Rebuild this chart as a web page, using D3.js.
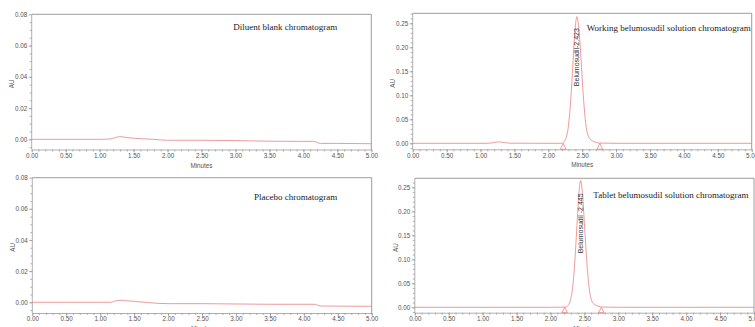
<!DOCTYPE html>
<html>
<head>
<meta charset="utf-8">
<script src="https://cdn.jsdelivr.net/npm/d3@7"></script>
<style>
  html, body { margin: 0; padding: 0; background: #fff; }
  svg { display: block; }
</style>
</head>
<body>
<svg id="chart" width="755" height="327"></svg>
<script>
// Retention time axis ticks (minutes)
const minuteTicks = [0, 0.5, 1, 1.5, 2, 2.5, 3, 3.5, 4, 4.5, 5];
const minuteMinor = d3.range(0, 5.0001, 0.1);

// Diluent blank trace
const blankTime = [0, 0.5, 1.0, 1.15, 1.22, 1.30, 1.38, 1.45, 1.60, 1.80, 1.90, 2.00, 2.50, 3.00, 3.50, 4.00, 4.15, 4.25, 4.50, 5.00];
const blankAU   = [0, 0, 0, 0.0002, 0.0010, 0.0017, 0.0013, 0.0009, 0.0004, 0.0000, -0.0004, -0.0006, -0.0006, -0.0008, -0.0012, -0.0013, -0.0013, -0.0026, -0.0026, -0.0028];

// Placebo trace
const placeboTime = [0, 0.5, 1.0, 1.15, 1.25, 1.32, 1.40, 1.50, 1.70, 2.00, 2.50, 3.00, 3.50, 4.00, 4.15, 4.25, 4.50, 5.00];
const placeboAU   = [0, 0, 0, 0, 0.0011, 0.0013, 0.0009, 0.0006, -0.0002, -0.0009, -0.0009, -0.0011, -0.0013, -0.0013, -0.0013, -0.0024, -0.0025, -0.0026];

// Working standard solution trace
const workingTime = [0, 1.10, 1.20, 1.27, 1.35, 1.45, 2.00, 2.20, 2.22, 2.24, 2.26, 2.28, 2.30, 2.32, 2.34, 2.36, 2.38, 2.40, 2.423, 2.44, 2.46, 2.48, 2.50, 2.52, 2.54, 2.56, 2.58, 2.60, 2.63, 2.68, 2.75, 3.00, 5.00];
const workingAU   = [0, 0, 0.0015, 0.0030, 0.0015, 0.0002, 0, 0, 0.0015, 0.0045, 0.0105, 0.0210, 0.0400, 0.0700, 0.1100, 0.1580, 0.2070, 0.2450, 0.2640, 0.2520, 0.2230, 0.1810, 0.1350, 0.0920, 0.0570, 0.0330, 0.0190, 0.0120, 0.0070, 0.0030, 0.0005, 0, 0];
const workingLabel = "Belumosudil-2.423";
const workingMarks = [2.22, 2.76];

// Tablet sample solution trace
const tabletTime = [0, 2.00, 2.22, 2.24, 2.26, 2.28, 2.30, 2.32, 2.34, 2.36, 2.38, 2.40, 2.42, 2.445, 2.46, 2.48, 2.50, 2.52, 2.54, 2.56, 2.58, 2.60, 2.62, 2.65, 2.70, 2.77, 3.00, 5.00];
const tabletAU   = [0, 0, 0.0005, 0.0015, 0.0040, 0.0090, 0.0180, 0.0340, 0.0600, 0.0980, 0.1450, 0.1950, 0.2380, 0.2640, 0.2540, 0.2200, 0.1750, 0.1280, 0.0860, 0.0530, 0.0300, 0.0170, 0.0100, 0.0060, 0.0025, 0.0005, 0, 0];
const tabletLabel = "Belumosudil -2.445";
const tabletMarks = [2.21, 2.75];

// Absorbance axis ticks
const smallTicks = [0, 0.02, 0.04, 0.06, 0.08];
const largeTicks = [0, 0.05, 0.10, 0.15, 0.20, 0.25];

const titles = [
  "Diluent blank chromatogram",
  "Working belumosudil solution chromatogram",
  "Placebo chromatogram",
  "Tablet belumosudil solution chromatogram"
];

const panels = [
  { box: [31.7, 371.3, 14.3, 149.5], yDom: [-0.0065, 0.08], yTicks: smallTicks, yMinorStep: 0.005,
    t: blankTime, v: blankAU, title: titles[0], titlePos: [201.5, 15.2], auX: 11.7 },
  { box: [412.7, 751.7, 13.3, 149.3], yDom: [-0.0125, 0.2708], yTicks: largeTicks, yMinorStep: 0.01,
    t: workingTime, v: workingAU, title: titles[1], titlePos: [174, 17.7], auX: 392.3,
    peak: { time: 2.423, label: workingLabel, start: 0.119 }, marks: workingMarks },
  { box: [32.3, 371.7, 177.7, 313], yDom: [-0.0069, 0.08], yTicks: smallTicks, yMinorStep: 0.005,
    t: placeboTime, v: placeboAU, title: titles[2], titlePos: [221.7, 22.5], auX: 12 },
  { box: [414.8, 754, 178.3, 312.7], yDom: [-0.01125, 0.26875], yTicks: largeTicks, yMinorStep: 0.01,
    t: tabletTime, v: tabletAU, title: titles[3], titlePos: [178.5, 19.9], auX: 395,
    peak: { time: 2.445, label: tabletLabel, start: 0.1125 }, marks: tabletMarks }
];

const svg = d3.select("#chart");
const frameColor = "#9c9c9c";
const traceColor = "#ea8080";
const tickFont = "'Liberation Sans', Arial, sans-serif";

panels.forEach(p => {
  const [x0, x1, y0, y1] = p.box;
  const x = d3.scaleLinear().domain([0, 5]).range([x0, x1]);
  const y = d3.scaleLinear().domain(p.yDom).range([y1, y0]);
  const g = svg.append("g");

  // Frame: top and right edges
  g.append("path")
    .attr("d", `M${x0},${y0}H${x1}V${y1}`)
    .attr("fill", "none").attr("stroke", frameColor).attr("stroke-width", 1);

  // Y axis (minor then major)
  const yMinor = d3.range(0, p.yDom[1], p.yMinorStep);
  const yMinorNeg = d3.range(-p.yMinorStep, p.yDom[0], -p.yMinorStep);
  g.append("g").attr("transform", `translate(${x0},0)`)
    .call(d3.axisLeft(y).tickValues(yMinor.concat(yMinorNeg)).tickSize(2).tickFormat(""))
    .call(a => a.select(".domain").remove());
  const ya = g.append("g").attr("transform", `translate(${x0},0)`)
    .call(d3.axisLeft(y).tickValues(p.yTicks).tickSize(3).tickSizeOuter(0).tickPadding(1.5).tickFormat(d3.format(".2f")));
  ya.select(".domain").attr("d", `M0,${y0}V${y1}`);

  // X axis (minor then major)
  g.append("g").attr("transform", `translate(0,${y1})`)
    .call(d3.axisBottom(x).tickValues(minuteMinor).tickSize(2).tickFormat(""))
    .call(a => a.select(".domain").remove());
  g.append("g").attr("transform", `translate(0,${y1})`)
    .call(d3.axisBottom(x).tickValues(minuteTicks).tickSize(3).tickSizeOuter(0).tickPadding(1).tickFormat(d3.format(".2f")));

  g.selectAll(".domain, .tick line").attr("stroke", frameColor).attr("stroke-width", 0.8);
  g.selectAll(".tick text").attr("font-family", tickFont).attr("font-size", 6.3).attr("fill", "#555");

  // Axis titles
  g.append("text")
    .attr("transform", `translate(${p.auX},${(y0 + y1) / 2 + 2}) rotate(-90)`)
    .attr("text-anchor", "middle").attr("dominant-baseline", "central")
    .attr("font-family", tickFont).attr("font-size", 6.3).attr("fill", "#555")
    .text("AU");
  g.append("text")
    .attr("x", (x0 + x1) / 2).attr("y", y1 + 15.5)
    .attr("text-anchor", "middle").attr("dominant-baseline", "central")
    .attr("font-family", tickFont).attr("font-size", 6.3).attr("fill", "#555")
    .text("Minutes");

  // Chromatogram trace
  const line = d3.line().x((d, i) => x(p.t[i])).y(d => y(d)).curve(d3.curveMonotoneX);
  g.append("path").datum(p.v)
    .attr("d", line)
    .attr("fill", "none").attr("stroke", traceColor).attr("stroke-width", 0.8);

  // Integration start / end markers
  if (p.marks) {
    p.marks.forEach(m => {
      const cx = x(m), top = y(0);
      g.append("path")
        .attr("d", `M${cx},${top}L${cx - 2.8},${y1}L${cx + 2.8},${y1}Z`)
        .attr("fill", "none").attr("stroke", traceColor).attr("stroke-width", 0.8);
    });
  }

  // Peak name and retention time
  if (p.peak) {
    g.append("text")
      .attr("transform", `translate(${x(p.peak.time)},${y(p.peak.start)}) rotate(-90)`)
      .attr("text-anchor", "start").attr("dominant-baseline", "central")
      .attr("font-family", tickFont).attr("font-size", 7).attr("fill", "#333")
      .text(p.peak.label);
  }

  // Chart title
  g.append("text")
    .attr("x", x0 + p.titlePos[0]).attr("y", y0 + p.titlePos[1])
    .attr("font-family", "'Liberation Serif', 'Times New Roman', serif")
    .attr("font-size", 9).attr("fill", "#1a1a1a")
    .text(p.title);
});
</script>
</body>
</html>
